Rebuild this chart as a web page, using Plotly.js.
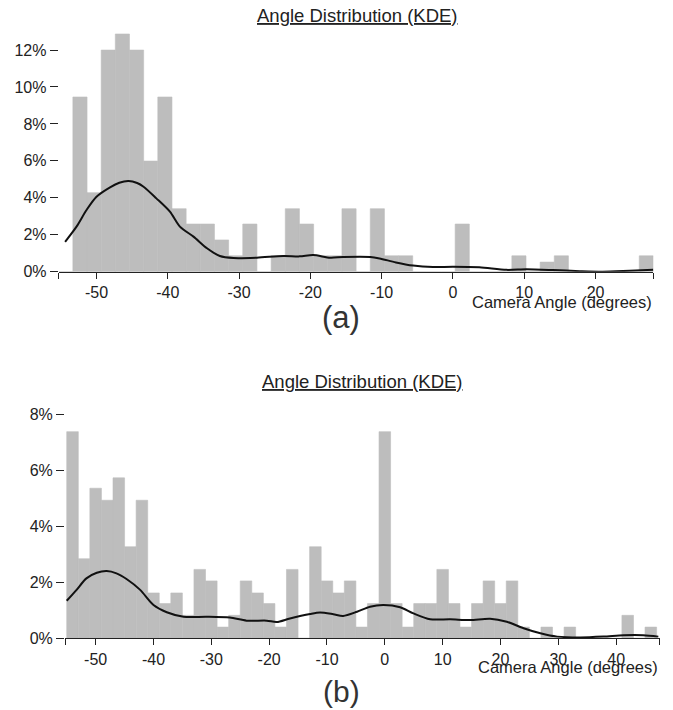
<!DOCTYPE html>
<html>
<head>
<meta charset="utf-8">
<script src="https://cdn.plot.ly/plotly-3.0.1.min.js"></script>
<style>html,body{margin:0;padding:0;background:#fff;}#chart{width:673px;height:710px;}</style>
</head>
<body>
<div id="chart"></div>
<script>
// ---------- Data: panel (a) ----------
const topTitle = "Angle Distribution (KDE)";
const xLabel = "Camera Angle (degrees)";
const topRange = [-55.3, 28.1];
const topBinWidth = 1.986;
const topBinLeft = [-55.30,-53.31,-51.33,-49.34,-47.36,-45.37,-43.39,-41.40,-39.41,-37.43,
  -35.44,-33.45,-31.46,-29.48,-27.49,-25.50,-23.52,-21.53,-19.55,-17.56,
  -15.57,-13.59,-11.60,-9.61,-7.63,-5.64,-3.66,-1.67,0.31,2.30,
  4.29,6.27,8.26,10.24,12.23,14.21,16.20,18.19,20.17,22.16,24.14,26.13];
const topPct = [0,9.46,4.28,12.0,12.87,12.0,5.99,9.46,3.41,2.58,
  2.58,1.72,0.86,2.58,0,0.86,3.41,2.58,0.86,0.86,
  3.41,0,3.41,0.86,0.86,0,0,0,2.58,0,
  0,0,0.86,0,0.52,0.86,0,0,0,0,0,0.86];
const topKdeX = [-54.4,-52.8,-51.4,-50.0,-48.1,-46.8,-45.5,-44.3,-43.4,-41.6,-39.7,-38.3,-36.4,-34.5,-32.7,-30.8,-27.5,-23.8,-21.5,-19.6,-17.2,-15.4,-11.6,-10.3,-8.0,-5.6,-2.8,0.0,3.7,7.5,10.3,14.0,17.8,21.0,24.8,28.1];
const topKdeY = [1.62,2.44,3.34,4.06,4.57,4.82,4.91,4.80,4.60,3.97,3.25,2.44,1.90,1.27,0.85,0.74,0.76,0.85,0.83,0.90,0.76,0.80,0.80,0.72,0.50,0.33,0.25,0.27,0.24,0.10,0.13,0.09,0.03,0.0,0.05,0.10];
const topYTicks = [0,2,4,6,8,10,12];
const topXTicks = [-50,-40,-30,-20,-10,0,10,20];

// ---------- Data: panel (b) ----------
const botRange = [-55.3, 47.5];
const botBinWidth = 2;
const botBinLeft = [-55,-53,-51,-49,-47,-45,-43,-41,-39,-37,-35,-33,-31,-29,-27,-25,-23,-21,-19,-17,
  -15,-13,-11,-9,-7,-5,-3,-1,1,3,5,7,9,11,13,15,17,19,21,23,25,27,29,31,33,35,37,39,41,43,45];
const botPct = [7.38,2.84,5.36,4.93,5.73,3.27,4.93,1.62,1.24,1.62,0.82,2.46,2.05,0.40,0.82,2.05,1.62,1.24,0.40,2.46,
  0,3.27,2.05,1.62,2.05,0.40,1.24,7.38,1.24,0.40,1.24,1.24,2.46,1.24,0.40,1.24,2.05,1.24,2.05,0.40,
  0,0.40,0,0.40,0,0,0,0,0.82,0,0.40];
const botKdeX = [-55.0,-53.3,-51.6,-49.8,-48.1,-46.4,-44.6,-42.3,-40.0,-37.7,-34.8,-30.8,-26.8,-23.9,-20.4,-18.7,-16.4,-12.9,-11.2,-8.9,-7.2,-4.8,-2.55,-0.24,2.65,4.95,7.84,11.3,14.76,18.2,21.1,24.0,26.9,29.8,33.8,37.8,41.3,44.7,47.3];
const botKdeY = [1.34,1.73,2.14,2.34,2.40,2.32,2.11,1.73,1.19,0.93,0.77,0.77,0.74,0.63,0.63,0.58,0.71,0.87,0.92,0.86,0.80,0.95,1.13,1.19,1.11,0.89,0.68,0.68,0.65,0.70,0.59,0.36,0.18,0.06,0.03,0.06,0.11,0.11,0.06];
const botYTicks = [0,2,4,6,8];
const botXTicks = [-50,-40,-30,-20,-10,0,10,20,30,40];

// ---------- Build ----------
const W = 673, H = 710;
const FONT = "Liberation Sans, Arial, Helvetica, sans-serif";
const TXT = "#222";
const BAR = "#bdbdbd";

function px(x){ return x / W; }
function py(y){ return 1 - y / H; }

function xTicks(range, ticks){
  const vals = [range[0] + 0.001].concat(ticks, [range[1] - 0.001]);
  const text = [""].concat(ticks.map(String), [""]);
  return {vals, text};
}
const tx1 = xTicks(topRange, topXTicks);
const tx2 = xTicks(botRange, botXTicks);
const pctText = t => t.map(v => v + "%");

const traces = [
  {type:"bar", x: topBinLeft, y: topPct, width: topBinWidth, offset: 0,
   marker:{color: BAR, line:{width:0.6, color: BAR}}, xaxis:"x", yaxis:"y", hoverinfo:"skip"},
  {type:"scatter", mode:"lines", x: topKdeX, y: topKdeY,
   line:{color:"#111", width:2, shape:"spline", smoothing:0.8}, xaxis:"x", yaxis:"y"},
  {type:"bar", x: botBinLeft, y: botPct, width: botBinWidth, offset: 0,
   marker:{color: BAR, line:{width:0.6, color: BAR}}, xaxis:"x2", yaxis:"y2", hoverinfo:"skip"},
  {type:"scatter", mode:"lines", x: botKdeX, y: botKdeY,
   line:{color:"#111", width:2, shape:"spline", smoothing:0.8}, xaxis:"x2", yaxis:"y2"}
];

const xCommon = {showgrid:false, zeroline:false, showline:true, linecolor:"#222", linewidth:1,
  ticks:"outside", ticklen:6, tickwidth:1, tickcolor:"#222", tickmode:"array",
  tickfont:{family:FONT, size:16, color:TXT}, fixedrange:true};
const yCommon = {showgrid:false, zeroline:false, showline:false,
  ticks:"outside", ticklen:8, tickwidth:1, tickcolor:"#222", tickmode:"array",
  tickfont:{family:FONT, size:16, color:TXT}, fixedrange:true};

const layout = {
  width: W, height: H,
  margin:{l:0, r:0, t:0, b:0, pad:0},
  paper_bgcolor:"#fff", plot_bgcolor:"#fff",
  showlegend:false,
  barmode:"overlay",
  xaxis: Object.assign({}, xCommon, {domain:[px(58.7), px(653.3)], range: topRange,
    tickvals: tx1.vals, ticktext: tx1.text, anchor:"y"}),
  yaxis: Object.assign({}, yCommon, {domain:[py(271.7), py(271.7 - 13.2*18.47)], range:[0,13.2],
    tickvals: topYTicks, ticktext: pctText(topYTicks), anchor:"x"}),
  xaxis2: Object.assign({}, xCommon, {domain:[px(65), px(659.5)], range: botRange,
    tickvals: tx2.vals, ticktext: tx2.text, anchor:"y2"}),
  yaxis2: Object.assign({}, yCommon, {domain:[py(638.3), py(638.3 - 8.3*28)], range:[0,8.3],
    tickvals: botYTicks, ticktext: pctText(botYTicks), anchor:"x2"}),
  annotations: [
    {text:"<u>"+topTitle+"</u>", xref:"paper", yref:"paper", x:px(357), y:py(15.5),
     xanchor:"center", yanchor:"middle", showarrow:false, font:{family:FONT, size:18.5, color:TXT}},
    {text:"<u>"+topTitle+"</u>", xref:"paper", yref:"paper", x:px(362), y:py(382),
     xanchor:"center", yanchor:"middle", showarrow:false, font:{family:FONT, size:18.5, color:TXT}},
    {text:xLabel, xref:"paper", yref:"paper", x:px(654), y:py(302),
     xanchor:"right", yanchor:"middle", showarrow:false, font:{family:FONT, size:16.5, color:TXT}},
    {text:xLabel, xref:"paper", yref:"paper", x:px(660), y:py(667),
     xanchor:"right", yanchor:"middle", showarrow:false, font:{family:FONT, size:16.5, color:TXT}},
    {text:"(a)", xref:"paper", yref:"paper", x:px(341), y:py(317),
     xanchor:"center", yanchor:"middle", showarrow:false, font:{family:FONT, size:31, color:"#333"}},
    {text:"(b)", xref:"paper", yref:"paper", x:px(341), y:py(691),
     xanchor:"center", yanchor:"middle", showarrow:false, font:{family:FONT, size:30, color:"#333"}}
  ]
};

Plotly.newPlot("chart", traces, layout, {displayModeBar:false, staticPlot:true});
</script>
</body>
</html>
